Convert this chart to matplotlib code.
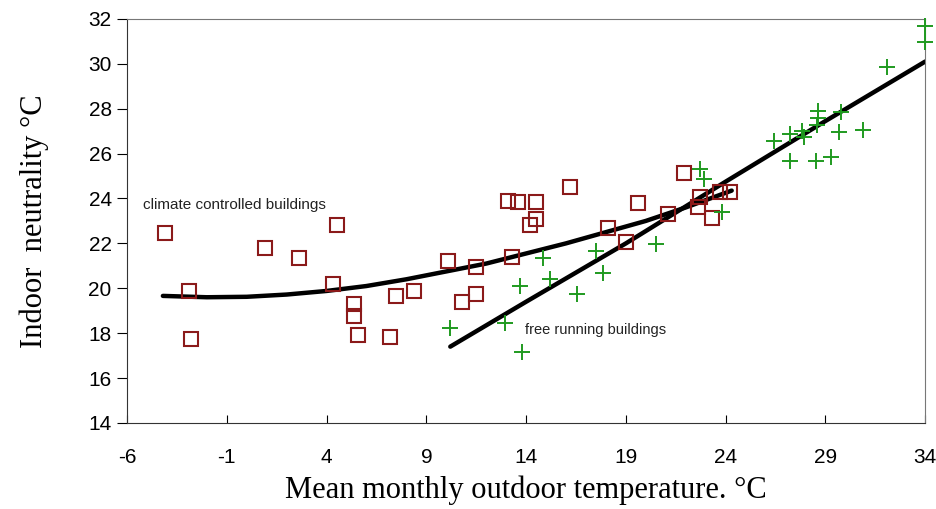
import numpy as np
import matplotlib
matplotlib.use('Agg')
from matplotlib import pyplot as plt

plt.rcParams['axes.unicode_minus'] = False

# climate controlled buildings (squares)
cc_x = [-4.1, -2.9, -2.8, 0.9, 2.6, 4.5, 4.3, 5.4, 5.4, 5.6, 7.2, 7.5, 8.4,
        10.1, 10.8, 11.5, 11.5, 13.1, 13.6, 13.3, 14.5, 14.5, 14.2, 16.2,
        18.1, 19.0, 19.6, 21.1, 21.9, 22.7, 22.6, 23.3, 23.7, 24.2]
cc_y = [22.45, 19.9, 17.75, 21.8, 21.35, 22.8, 20.2, 19.3, 18.75, 17.9, 17.85,
        19.65, 19.9, 21.2, 19.4, 20.95, 19.75, 23.9, 23.85, 21.4, 23.85, 23.1,
        22.8, 24.5, 22.7, 22.05, 23.8, 23.3, 25.15, 24.05, 23.6, 23.15, 24.3, 24.3]

# free running buildings (plus signs)
fr_x = [10.2, 12.95, 13.8, 13.7, 14.85, 15.2, 16.55, 17.5, 17.85, 20.5,
        22.7, 22.9, 23.8, 26.4, 27.2, 27.2, 27.8, 27.9, 28.5, 28.6, 28.6, 28.55,
        29.3, 29.7, 29.8, 30.9, 32.1, 34.0, 34.0]
fr_y = [18.25, 18.45, 17.15, 20.1, 21.35, 20.4, 19.75, 21.65, 20.7, 21.95,
        25.3, 24.85, 23.4, 26.55, 26.85, 25.65, 27.0, 26.75, 25.65, 27.9, 27.6,
        27.25, 25.85, 26.95, 27.85, 27.05, 29.85, 31.7, 30.95]

# fitted lines
cc_fit_x = [-4.2, -2, 0, 2, 4, 6, 8, 10, 12, 14, 16, 18, 20, 22, 24.3]
cc_fit_y = [19.66, 19.6, 19.62, 19.72, 19.88, 20.1, 20.4, 20.75, 21.1,
            21.55, 22.0, 22.5, 23.0, 23.6, 24.35]
fr_fit_x = [10.2, 14, 19, 24, 29, 34]
fr_fit_y = [17.4, 19.4, 22.0, 24.75, 27.45, 30.1]

xticks = [-6, -1, 4, 9, 14, 19, 24, 29, 34]
yticks = list(range(14, 33, 2))

fig = plt.figure(figsize=(9.37, 5.09), dpi=100)
ax = fig.add_axes([0.1355, 0.169, 0.852, 0.794])

ax.plot(cc_fit_x, cc_fit_y, color='black', lw=3.2, solid_capstyle='round', zorder=2)
ax.plot(fr_fit_x, fr_fit_y, color='black', lw=3.2, solid_capstyle='round', zorder=2)

ax.plot(cc_x, cc_y, ls='none', marker='s', ms=10, mfc='none',
        mec='#8b1a1a', mew=1.5, zorder=3)
ax.plot(fr_x, fr_y, ls='none', marker='+', ms=11, mec='#1f9a1f',
        mew=1.4, zorder=3, clip_on=False)

ax.text(-5.2, 23.7, 'climate controlled buildings', fontsize=11,
        family='Liberation Sans', color='#222222', va='center')
ax.text(13.95, 18.15, 'free running buildings', fontsize=10.5,
        family='Liberation Sans', color='#222222', va='center')

ax.set_xlim(-6, 34)
ax.set_ylim(14, 32)
ax.set_xticks(xticks)
ax.set_yticks(yticks)
ax.tick_params(axis='x', direction='in', length=6, pad=18, labelsize=15)
ax.tick_params(axis='y', direction='out', length=7, pad=4, labelsize=15)
for lab in ax.get_xticklabels() + ax.get_yticklabels():
    lab.set_family('Liberation Sans')

for side in ['top', 'right']:
    ax.spines[side].set_color('#777777')
for side in ['left', 'bottom']:
    ax.spines[side].set_color('#333333')

ax.set_xlabel('Mean monthly outdoor temperature. °C', family='Liberation Serif',
              fontsize=22, labelpad=6)
ax.set_ylabel('Indoor  neutrality °C', family='Liberation Serif',
              fontsize=22, labelpad=28)

fig.savefig('out.png', dpi=100)
